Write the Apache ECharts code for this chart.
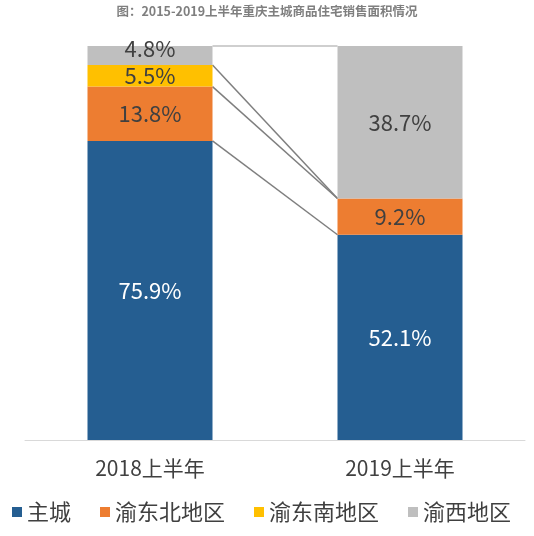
<!DOCTYPE html>
<html>
<head>
<meta charset="utf-8">
<script src="https://cdn.jsdelivr.net/npm/echarts@6/dist/echarts.min.js"></script>
<style>
html,body{margin:0;padding:0;background:#fff;}
#c{width:534px;height:536px;}
</style>
</head>
<body>
<div id="c"></div>
<script>
var titleText = '图：2015-2019上半年重庆主城商品住宅销售面积情况';
var categories = ['2018上半年', '2019上半年'];
var seriesNames = ['主城', '渝东北地区', '渝东南地区', '渝西地区'];
var zhucheng = [75.9, 52.1];
var yudongbei = [13.8, 9.2];
var yudongnan = [5.5, 0];
var yuxi = [4.8, 38.7];

var seriesValues = [zhucheng, yudongbei, yudongnan, yuxi];
var colors = ['#255E91', '#ED7D31', '#FFC000', '#BFBFBF'];
var labelColors = ['#ffffff', '#404040', '#404040', '#404040'];
var FONT = '"Noto Sans CJK SC", "Noto Sans", sans-serif';

var chart = echarts.init(document.getElementById('c'), null, {renderer: 'canvas'});

var series = seriesValues.map(function (vals, si) {
  return {
    name: seriesNames[si],
    type: 'bar',
    stack: 'total',
    barWidth: '50%',
    itemStyle: {color: colors[si]},
    label: {
      show: true,
      position: 'inside',
      fontFamily: FONT,
      fontSize: 22,
      color: labelColors[si],
      formatter: function (p) { return p.value > 0 ? p.value.toFixed(1) + '%' : ''; }
    },
    data: vals.map(function (v, ci) {
      var d = {value: v};
      if (si === 3 && v < 6) { d.label = {offset: [0, -7]}; }
      return d;
    })
  };
});

// connector lines between the stacked bars
series.push({
  type: 'custom',
  name: 'connectors',
  silent: true,
  z: 1,
  renderItem: function (params, api) {
    var i = api.value(0);
    var band = api.size([1, 0])[0];
    var half = band * 0.25;
    var children = [];
    var cumA = 0, cumB = 0;
    for (var k = 0; k < seriesValues.length; k++) {
      cumA += seriesValues[k][i];
      cumB += seriesValues[k][i + 1];
      var p1 = api.coord([i, cumA]);
      var p2 = api.coord([i + 1, cumB]);
      children.push({
        type: 'line',
        shape: {x1: p1[0] + half, y1: p1[1], x2: p2[0] - half, y2: p2[1]},
        style: {stroke: k === seriesValues.length - 1 ? '#BFBFBF' : '#7F7F7F', lineWidth: 1.5}
      });
    }
    return {type: 'group', children: children};
  },
  data: categories.slice(0, -1).map(function (c, i) { return [i]; })
});

chart.setOption({
  animation: false,
  backgroundColor: '#ffffff',
  title: {
    text: titleText,
    left: 'center',
    top: 5,
    padding: 0,
    textStyle: {fontFamily: FONT, fontSize: 12.5, fontWeight: 'bold', color: '#7F7F7F'}
  },
  legend: {
    data: seriesNames,
    left: 12,
    top: 501,
    padding: 0,
    itemWidth: 10,
    itemHeight: 10,
    itemGap: 29,
    icon: 'rect',
    textStyle: {fontFamily: FONT, fontSize: 22, color: '#404040'}
  },
  grid: {left: 25, right: 9, top: 46, bottom: 96, containLabel: false},
  xAxis: {
    type: 'category',
    data: categories,
    axisLine: {lineStyle: {color: '#D9D9D9', width: 1}},
    axisTick: {show: false},
    axisLabel: {fontFamily: FONT, fontSize: 21, color: '#404040', margin: 18}
  },
  yAxis: {
    type: 'value',
    min: 0,
    max: 100,
    show: false,
    splitLine: {show: false}
  },
  series: series
});
</script>
</body>
</html>
